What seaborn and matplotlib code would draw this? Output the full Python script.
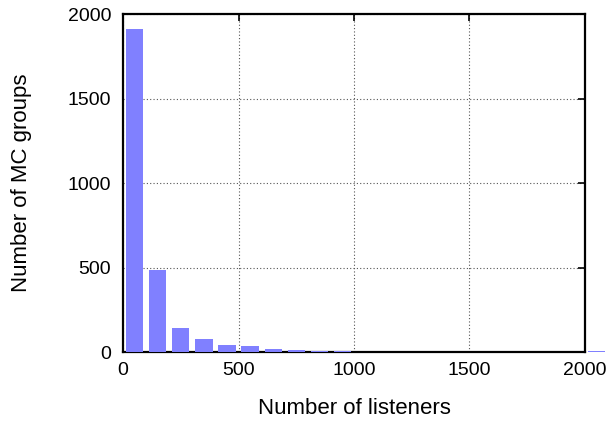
import matplotlib
matplotlib.use("Agg")
import matplotlib.pyplot as plt
import seaborn as sns
import pandas as pd

# histogram bins (centres) and counts of MC groups
bin_centers = [50, 150, 250, 350, 450, 550, 650, 750, 850, 950,
               1050, 1150, 1250, 1350, 1450, 1550, 1650, 1750, 1850, 1950, 2050]
group_counts = [1911, 485, 142, 77, 41, 36, 18, 12, 6, 3,
                2, 2, 2, 1, 1, 1, 1, 1, 1, 1, 3]

x_ticks = [0, 500, 1000, 1500, 2000]
y_ticks = [0, 500, 1000, 1500, 2000]

sns.set_style("white")
plt.rcParams['font.family'] = ['Liberation Sans', 'DejaVu Sans']
plt.rcParams['text.color'] = 'black'
plt.rcParams['axes.labelcolor'] = 'black'

df = pd.DataFrame({'listeners': bin_centers, 'groups': group_counts})

fig = plt.figure(figsize=(6.13, 4.26), dpi=100)
ax = fig.add_axes([0.2007, 0.1737, 0.7536, 0.7933])

sns.barplot(data=df, x='listeners', y='groups', native_scale=True,
            width=0.75, color='#8080ff', saturation=1, edgecolor='none',
            linewidth=0, ax=ax, zorder=3)
for p in ax.patches:
    p.set_clip_on(False)

ax.set_xlim(0, 2000)
ax.set_ylim(0, 2000)
ax.set_xticks(x_ticks)
ax.set_yticks(y_ticks)
ax.grid(True, linestyle=(0, (1, 2)), color='#555555', linewidth=0.8, zorder=0)
ax.set_axisbelow(True)
ax.tick_params(direction='in', length=5, width=1.2, top=True, right=True,
               labelsize=14, colors='black')
ax.tick_params(axis='x', pad=7)
ax.tick_params(axis='y', pad=8.5)
for s in ax.spines.values():
    s.set_linewidth(1.6)
    s.set_color('black')
    s.set_visible(True)

ax.set_xlabel('Number of listeners', fontsize=16, color='black')
ax.set_ylabel('Number of MC groups', fontsize=16, color='black')
ax.xaxis.set_label_coords(0.5, -0.136)
ax.yaxis.set_label_coords(-0.1976, 0.5)

fig.savefig('out.png', dpi=100)
